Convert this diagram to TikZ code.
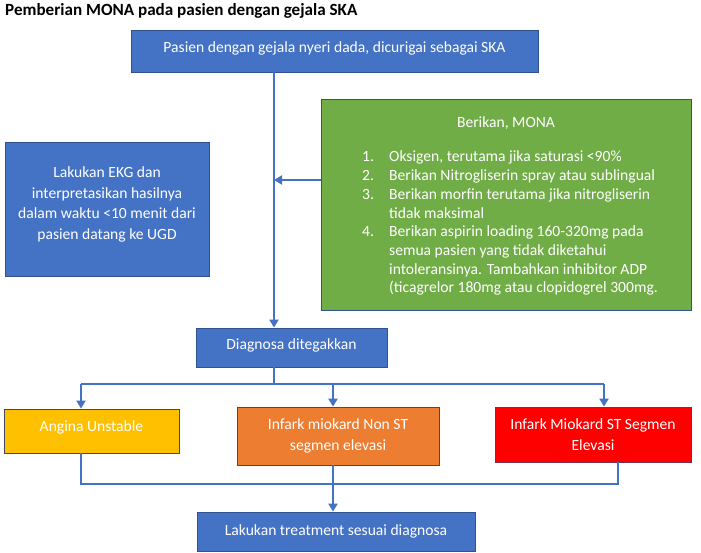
\documentclass[tikz,border=0pt]{standalone}
\usepackage{fontspec}
\setmainfont{Carlito}
\usetikzlibrary{arrows.meta}
\definecolor{bfill}{HTML}{4472C4}
\definecolor{bdraw}{HTML}{2F528F}
\definecolor{gfill}{HTML}{70AD47}
\definecolor{yfill}{HTML}{FFC000}
\definecolor{ofill}{HTML}{ED7D31}
\definecolor{rfill}{HTML}{FF0000}
\definecolor{ydraw}{HTML}{3E4A55}
\definecolor{odraw}{HTML}{4A4A55}
\definecolor{rdraw}{HTML}{7A2E4A}
\definecolor{lcol}{HTML}{4472C4}
\tikzset{
  boxstyle/.style={draw=bdraw, fill=bfill, line width=0.8pt, text=white, inner sep=0pt, align=center,
    font=\fontsize{15.6}{20.5}\selectfont},
  oneline/.style={text height=11pt, text depth=#1},
  conn/.style={draw=lcol, line width=2pt},
  arr/.style={conn, -{Triangle[width=9pt,length=8pt]}},
  gtext/.style={text=white, inner sep=0pt, font=\fontsize{15.6}{18.7}\selectfont},
}
\newcommand{\boxat}[7]{% name, x1, y1, x2, y2, extra style, text
  \node[boxstyle, #6, minimum width={(#4-#2)*1pt}, minimum height={(#5-#3)*1pt}] (#1) at ({(#2+#4)/2},{(#3+#5)/2}) {#7};}
\begin{document}
\begin{tikzpicture}[x=1pt, y=-1pt]
\useasboundingbox (0,0) rectangle (701,553);
\node[anchor=base west, inner sep=0pt, font=\fontsize{17.1}{20}\selectfont\bfseries] (title) at (5,16) {Pemberian MONA pada pasien dengan gejala SKA};

\boxat{top}{131}{30}{538}{72}{oneline=8pt}{Pasien dengan gejala nyeri dada, dicurigai sebagai SKA}
\boxat{ekg}{5}{142}{209}{276}{}{Lakukan EKG dan\\interpretasikan hasilnya\\dalam waktu <10 menit dari\\pasien datang ke UGD\rule[-12pt]{0pt}{1pt}}
\boxat{green}{321}{99}{691}{310}{fill=gfill}{}
\boxat{diag}{196}{328}{387}{367}{oneline=7.5pt}{Diagnosa ditegakkan}
\boxat{angina}{4}{409}{179}{453}{fill=yfill, draw=ydraw, oneline=10pt}{Angina Unstable}
\boxat{orange}{237}{407}{439}{465}{fill=ofill, draw=odraw}{Infark miokard Non ST\\segmen elevasi}
\boxat{red}{495}{407}{691}{462}{fill=rfill, draw=rdraw}{Infark Miokard ST Segmen\\Elevasi}
\boxat{bottom}{197}{512}{475}{551}{oneline=3.6pt}{Lakukan treatment sesuai diagnosa}

\node[gtext, anchor=base] (ghead) at (506,128) {Berikan, MONA};
\node[gtext, anchor=base west] (n1) at (362,162) {1.};
\node[gtext, anchor=base west] (t1) at (389,162) {Oksigen, terutama jika saturasi <90\%};
\node[gtext, anchor=base west] (n2) at (362,180.7) {2.};
\node[gtext, anchor=base west] (t2) at (389,180.7) {Berikan Nitrogliserin spray atau sublingual};
\node[gtext, anchor=base west] (n3) at (362,199.4) {3.};
\node[gtext, anchor=base west] (t3) at (389,199.4) {Berikan morfin terutama jika nitrogliserin};
\node[gtext, anchor=base west] (t3b) at (389,218.1) {tidak maksimal};
\node[gtext, anchor=base west] (n4) at (362,236.8) {4.};
\node[gtext, anchor=base west] (t4) at (389,236.8) {Berikan aspirin loading 160-320mg pada};
\node[gtext, anchor=base west] (t4b) at (389,255.5) {semua pasien yang tidak diketahui};
\node[gtext, anchor=base west] (t4c) at (389,274.2) {intoleransinya. Tambahkan inhibitor ADP};
\node[gtext, anchor=base west] (t4d) at (389,292.9) {(ticagrelor 180mg atau clopidogrel 300mg.};

\coordinate (sp) at (274,0);
\coordinate (ga) at (0,180);
\coordinate (hl) at (81,384);
\coordinate (hr) at (604,384);
\coordinate (xo) at (333,0);
\coordinate (lo) at (0,484);
\coordinate (lr) at (618,0);

\draw[arr] (top.south -| sp) -- (diag.north -| sp);
\draw[arr] (green.west |- ga) -- (sp |- ga);
\draw[conn] (diag.south -| sp) -- (sp |- hl);
\draw[conn] (hl) -- (hr);
\draw[arr] (hl) -- (angina.north -| hl);
\draw[arr] (xo |- hl) -- (orange.north -| xo);
\draw[arr] (hr) -- (red.north -| hr);
\draw[conn, line join=miter] (angina.south -| hl) -- (hl |- lo) -- (lr |- lo) -- (red.south -| lr);
\draw[arr] (orange.south -| xo) -- (bottom.north -| xo);
\end{tikzpicture}
\end{document}
